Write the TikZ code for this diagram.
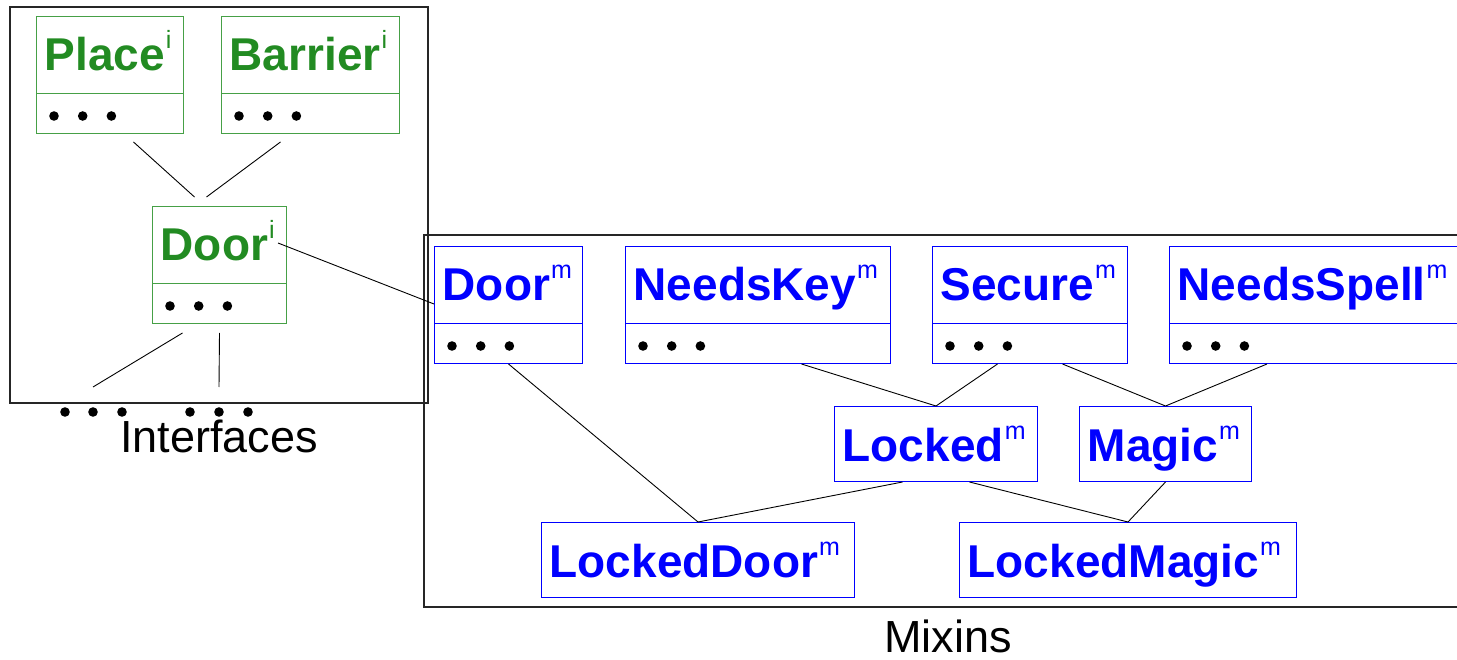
\documentclass[tikz,border=0pt]{standalone}
\usepackage{fontspec}
\setmainfont{Liberation Sans}
\usetikzlibrary{calc}
\definecolor{igreen}{RGB}{34,139,34}
\definecolor{igreenline}{RGB}{70,160,70}
\definecolor{mblue}{RGB}{0,0,255}
\newcommand\supx[1]{\hspace{1pt}\raisebox{22pt}{\fontsize{25}{25}\selectfont\mdseries #1}}
\tikzset{
  ibox/.style={draw=igreenline, line width=1pt, rectangle, inner sep=0pt, anchor=north west},
  mbox/.style={draw=mblue, line width=1pt, rectangle, inner sep=0pt, anchor=north west},
  iline/.style={draw=igreenline, line width=1pt},
  mline/.style={draw=mblue, line width=1pt},
  ititle/.style={anchor=base west, inner sep=0pt, text=igreen, font=\fontsize{46}{48}\selectfont\bfseries},
  mtitle/.style={anchor=base west, inner sep=0pt, text=mblue, font=\fontsize{46}{48}\selectfont\bfseries},
  conn/.style={draw=black, line width=0.9pt},
  frame/.style={draw=black!85, line width=1.2pt},
  biglabel/.style={anchor=base, inner sep=0pt, font=\fontsize{45}{48}\selectfont},
}
\newcommand\CompBox[6]{% name, x, y, width, kind (i/m), title
  \node[#5box, minimum width=#4pt, minimum height=117pt] (#1) at (#2,#3) {};
  \draw[#5line] ([yshift=-78pt]#1.north west) -- ([yshift=-78pt]#1.north east);
  \node[#5title] at ([xshift=8.5pt,yshift=-55pt]#1.north west) {#6};
  \foreach \k in {0,1,2} \fill ([xshift={18pt+28.7pt*\k},yshift=-100pt]#1.north west) circle (4.8pt);
}
\newcommand\SBox[5]{% name, x, y, width, title
  \node[mbox, minimum width=#4pt, minimum height=75pt] (#1) at (#2,#3) {};
  \node[mtitle] at ([xshift=8.5pt,yshift=-55pt]#1.north west) {#5};
}
\begin{document}
\begin{tikzpicture}[x=1pt,y=-1pt]
\useasboundingbox (0,0) rectangle (1457,660);
\clip (0,0) rectangle (1457,660);
\fill[white] (0,0) rectangle (1457,660);

% frames
\draw[frame] (10,7) rectangle (428,403);
\draw[frame] (1470,235) -- (424,235) -- (424,607) -- (1470,607);

% interfaces
\CompBox{place}{36}{16}{147}{i}{Place\supx{i}}
\CompBox{barrier}{221}{16}{178}{i}{Barrier\supx{i}}
\CompBox{doori}{152}{206}{134}{i}{Door\supx{i}}

% mixins
\CompBox{doorm}{434}{246}{148}{m}{Door\supx{m}}
\CompBox{needskey}{625}{246}{265}{m}{NeedsKey\supx{m}}
\CompBox{secure}{932}{246}{195}{m}{Secure\supx{m}}
\CompBox{needsspell}{1169}{246}{300}{m}{NeedsSpell\supx{m}}
\SBox{locked}{834}{406}{203}{Locked\supx{m}}
\SBox{magic}{1079}{406}{172}{Magic\supx{m}}
\SBox{ldoor}{541}{522}{313}{LockedDoor\supx{m}}
\SBox{lmagic}{959}{522}{337}{LockedMagic\supx{m}}

% interface connectors
\draw[conn] ([xshift=23.5pt,yshift=-8pt]place.south) -- ([xshift=-25pt,yshift=9pt]doori.north);
\draw[conn] ([xshift=-30pt,yshift=-8pt]barrier.south) -- ([xshift=-13pt,yshift=9pt]doori.north);
\coordinate (free1) at (93,387);
\coordinate (free2) at (219,387);
\draw[conn] ([xshift=-37pt,yshift=-9pt]doori.south) -- (free1);
\draw[conn] ([yshift=-9pt]doori.south) -- (free2);
\foreach \x in {65,93,122,190,219,248} \fill (\x,412) circle (4.8pt);

% interface to mixin
\draw[conn] ([xshift=-9pt,yshift=-37pt]doori.north east) -- ([yshift=-58pt]doorm.north west);

% mixin connectors
\draw[conn] (doorm.south) -- (ldoor.north);
\draw[conn] ([xshift=43.5pt]needskey.south) -- (locked.north);
\draw[conn] ([xshift=-32.5pt]secure.south) -- (locked.north);
\draw[conn] ([xshift=32.5pt]secure.south) -- (magic.north);
\draw[conn] ([xshift=98pt]needsspell.south west) -- (magic.north);
\draw[conn] ([xshift=-33.5pt]locked.south) -- (ldoor.north);
\draw[conn] ([xshift=33.5pt]locked.south) -- (lmagic.north);
\draw[conn] (magic.south) -- (lmagic.north);

% labels
\node[biglabel] (ilabel) at (219,452) {Interfaces};
\node[biglabel] (mlabel) at (948,652) {Mixins};
\end{tikzpicture}
\end{document}
